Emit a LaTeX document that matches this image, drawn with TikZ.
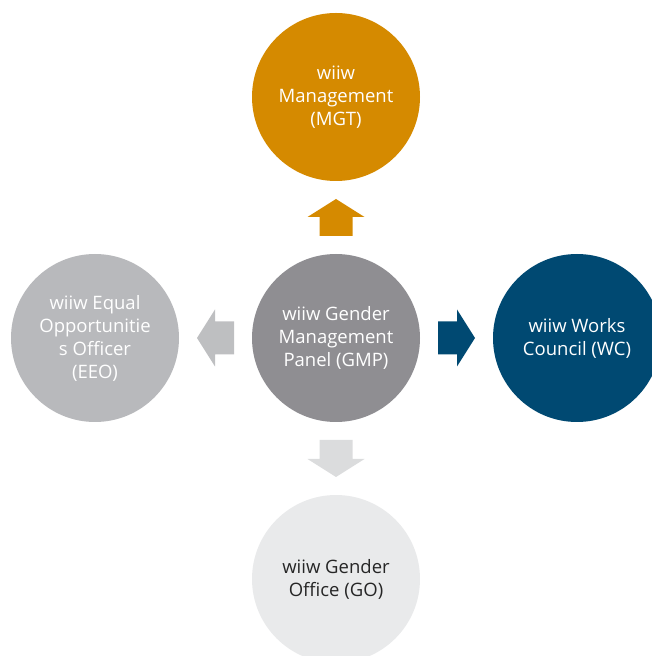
\documentclass[tikz,border=0pt]{standalone}
\usepackage{fontspec}
\setmainfont{Open Sans}
\usetikzlibrary{calc}

\definecolor{mgtorange}{RGB}{213,138,0}
\definecolor{gmpgray}{RGB}{143,142,146}
\definecolor{eeogray}{RGB}{184,185,188}
\definecolor{eeoarrow}{RGB}{190,191,193}
\definecolor{wcnavy}{RGB}{0,73,114}
\definecolor{golight}{RGB}{233,234,235}
\definecolor{goarrow}{RGB}{219,220,221}
\definecolor{gotext}{RGB}{38,38,38}

% block arrow centred at #1, pointing in direction #2 (degrees), filled with #3
\newcommand{\blockarrow}[3]{%
  \fill[#3, shift={(#1)}, rotate=#2]
    (-18.5,-16.5) -- (0.5,-16.5) -- (0.5,-28.5) -- (18.5,0)
    -- (0.5,28.5) -- (0.5,16.5) -- (-18.5,16.5) -- cycle;}

\begin{document}
\begin{tikzpicture}[x=1pt, y=1pt,
  unit/.style={circle, minimum size=168pt, inner sep=0pt, align=center,
    text=white, font=\fontsize{18.5}{23}\selectfont}]
  \useasboundingbox (0,0) rectangle (651,656);

  \node[unit, fill=gmpgray]  (gmp) at (336,318) {wiiw Gender\\Management\\Panel (GMP)};
  \node[unit, fill=mgtorange](mgt) at (336,559) {wiiw\\Management\\(MGT)};
  \node[unit, fill=eeogray]  (eeo) at (95,318)  {wiiw Equal\\Opportunitie\\s Officer\\(EEO)};
  \node[unit, fill=wcnavy]   (wc)  at (577,318) {wiiw Works\\Council (WC)};
  \node[unit, fill=golight, text=gotext] (go) at (336,77) {wiiw Gender\\Office (GO)};

  % arrows from the panel to each unit, centred in the gaps
  \coordinate (toMGT) at ($(gmp.north)!0.5!(mgt.south)$);
  \coordinate (toEEO) at ($(gmp.west)!0.5!(eeo.east)$);
  \coordinate (toWC)  at ($(gmp.east)!0.5!(wc.west)$);
  \coordinate (toGO)  at ($(gmp.south)!0.5!(go.north)$);
  \blockarrow{toMGT}{90}{mgtorange}
  \blockarrow{toEEO}{180}{eeoarrow}
  \blockarrow{toWC}{0}{wcnavy}
  \blockarrow{toGO}{270}{goarrow}
\end{tikzpicture}
\end{document}
